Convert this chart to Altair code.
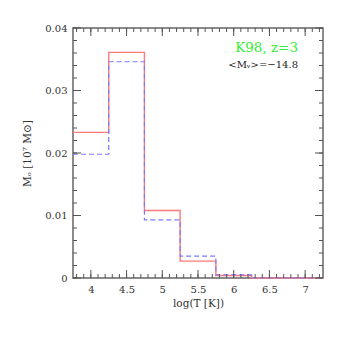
import altair as alt
import pandas as pd

# bin edges in log(T [K])
edges = [3.75, 4.25, 4.75, 5.25, 5.75, 6.25, 6.75, 7.25]
red_vals = [0.0233, 0.0361, 0.0108, 0.0027, 0.0004, 0.0, 0.0]
blue_vals = [0.0198, 0.0346, 0.0093, 0.0035, 0.0005, 0.0, 0.0]

x_major = [4.0, 4.5, 5.0, 5.5, 6.0, 6.5, 7.0]
x_minor = [round(3.8 + 0.1 * i, 2) for i in range(35)]
y_major = [0.0, 0.01, 0.02, 0.03, 0.04]
y_minor = [round(0.002 * i, 4) for i in range(21)]

W, H = 250, 250
font = "DejaVu Serif"

def step_df(vals, name):
    return pd.DataFrame({"x": edges, "y": vals + [vals[-1]], "s": name})

df = pd.concat([step_df(red_vals, "red"), step_df(blue_vals, "blue")])

xs = alt.Scale(domain=[3.75, 7.25], nice=False, zero=False)
ys = alt.Scale(domain=[0, 0.04], nice=False)

base_x = alt.X("x:Q", scale=xs,
               axis=alt.Axis(values=x_major, ticks=False, domain=False, grid=False,
                             title="log(T [K])", labelFont=font, labelFontSize=10,
                             labelColor="#333", titleFont=font, titleFontSize=10.5,
                             titleFontWeight="normal", titleColor="#333",
                             labelPadding=6, titlePadding=4, format="~g",
                             labelFlush=False))
base_y = alt.Y("y:Q", scale=ys,
               axis=alt.Axis(values=y_major, ticks=False, domain=False, grid=False,
                             title="Mₒ [10⁷ M⊙]", labelFont=font, labelFontSize=10,
                             labelColor="#333", titleFont=font, titleFontSize=10.5,
                             titleFontWeight="normal", titleColor="#333",
                             labelPadding=6, titlePadding=12, format="~g",
                             labelFlush=False))

red = alt.Chart(df[df.s == "red"]).mark_line(
    interpolate="step-after", color="#ff7a7a", strokeWidth=1.4
).encode(x=base_x, y=base_y)
blue = alt.Chart(df[df.s == "blue"]).mark_line(
    interpolate="step-after", color="#7b7bff", strokeWidth=1.2, strokeDash=[5, 3]
).encode(x=alt.X("x:Q", scale=xs), y=alt.Y("y:Q", scale=ys))

tick_color = "#555"
def xticks(vals, length):
    d = pd.DataFrame({"x": vals})
    b = alt.Chart(d).mark_rule(color=tick_color, strokeWidth=1).encode(
        x=alt.X("x:Q", scale=xs), y=alt.value(H), y2=alt.value(H - length))
    t = alt.Chart(d).mark_rule(color=tick_color, strokeWidth=1).encode(
        x=alt.X("x:Q", scale=xs), y=alt.value(0), y2=alt.value(length))
    return b + t

def yticks(vals, length):
    d = pd.DataFrame({"y": vals})
    l = alt.Chart(d).mark_rule(color=tick_color, strokeWidth=1).encode(
        y=alt.Y("y:Q", scale=ys), x=alt.value(0), x2=alt.value(length))
    r = alt.Chart(d).mark_rule(color=tick_color, strokeWidth=1).encode(
        y=alt.Y("y:Q", scale=ys), x=alt.value(W), x2=alt.value(W - length))
    return l + r

ann = pd.DataFrame({"x": [6.9, 6.9], "y": [0.0368, 0.0341],
                    "t": ["K98, z=3", "<Mᵥ>=−14.8"]})
t1 = alt.Chart(ann.iloc[[0]]).mark_text(
    align="right", baseline="middle", font=font, fontSize=13.5, color="#33ee33"
).encode(x=alt.X("x:Q", scale=xs), y=alt.Y("y:Q", scale=ys), text="t:N")
t2 = alt.Chart(ann.iloc[[1]]).mark_text(
    align="right", baseline="middle", font=font, fontSize=10, color="#222"
).encode(x=alt.X("x:Q", scale=xs), y=alt.Y("y:Q", scale=ys), text="t:N")

chart = alt.layer(
    red, blue,
    xticks(x_minor, 4), xticks(x_major, 8),
    yticks(y_minor, 4), yticks(y_major, 8),
    t1, t2,
).properties(
    width=W, height=H,
    autosize=alt.AutoSizeParams(type="none"),
    padding={"left": 65, "top": 20, "right": 10, "bottom": 55},
).configure_view(stroke="#666", strokeWidth=1.5)

chart.save("out.html", embed_options={"renderer": "svg", "actions": False})
